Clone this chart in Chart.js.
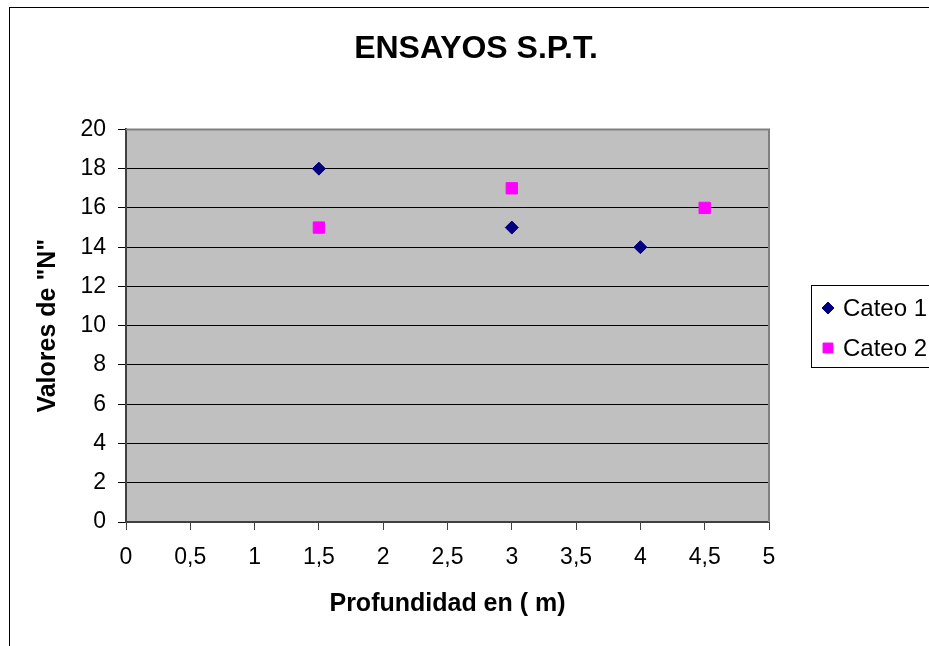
<!DOCTYPE html>
<html>
<head>
<meta charset="utf-8">
<script src="https://cdn.jsdelivr.net/npm/chart.js@4"></script>
<style>
  html, body { margin: 0; padding: 0; background: #fff; overflow: hidden; }
  #wrap { width: 929px; height: 646px; position: relative; }
</style>
</head>
<body>
<div id="wrap"><canvas id="chart"></canvas></div>
<script>
const cateo1Depth = [1.5, 3, 4];
const cateo1N = [18, 15, 14];
const cateo2Depth = [1.5, 3, 4.5];
const cateo2N = [15, 17, 16];
const xTickLabels = ['0', '0,5', '1', '1,5', '2', '2,5', '3', '3,5', '4', '4,5', '5'];
const yTickLabels = ['0', '2', '4', '6', '8', '10', '12', '14', '16', '18', '20'];

const FONT = "Arial, 'Liberation Sans', sans-serif";

// grey plot area + frame around the whole chart
const plotArea = {
    id: 'plotArea',
    beforeDraw(chart) {
        const { ctx, chartArea: a } = chart;
        ctx.save();
        ctx.fillStyle = '#ffffff';
        ctx.fillRect(0, 0, chart.width, chart.height);
        ctx.strokeStyle = '#000000';
        ctx.lineWidth = 1;
        ctx.strokeRect(9.5, 7.5, chart.width + 50, chart.height + 50);
        ctx.fillStyle = '#C0C0C0';
        ctx.fillRect(a.left, a.top, a.right - a.left, a.bottom - a.top);
        ctx.restore();
    },
    afterDraw(chart) {
        const { ctx, chartArea: a } = chart;
        ctx.save();
        ctx.strokeStyle = '#808080';
        ctx.lineWidth = 2;
        ctx.beginPath();
        ctx.moveTo(a.left, a.top);
        ctx.lineTo(a.right, a.top);
        ctx.lineTo(a.right, a.bottom);
        ctx.stroke();
        ctx.restore();
    }
};

// excel-like legend box on the right
const boxLegend = {
    id: 'boxLegend',
    afterDraw(chart) {
        const { ctx } = chart;
        const x0 = 811, y0 = 285, h = 82;
        ctx.save();
        ctx.strokeStyle = '#000000';
        ctx.lineWidth = 1;
        ctx.strokeRect(x0 + 0.5, y0 + 0.5, 200, h);
        ctx.font = '24px ' + FONT;
        ctx.textBaseline = 'middle';
        chart.data.datasets.forEach((ds, i) => {
            const cy = y0 + 23 + i * 40;
            ctx.fillStyle = ds.backgroundColor;
            ctx.strokeStyle = ds.borderColor;
            Chart.helpers.drawPoint(ctx, {
                pointStyle: ds.pointStyle,
                radius: ds.pointStyle === 'rectRot' ? 6 : 7,
                borderWidth: 1,
                rotation: 0
            }, 828, cy);
            ctx.fillStyle = '#000000';
            ctx.fillText(ds.label, 843, cy + 1);
        });
        ctx.restore();
    }
};

new Chart(document.getElementById('chart'), {
    type: 'scatter',
    data: {
        datasets: [{
            label: 'Cateo 1',
            data: cateo1Depth.map((x, i) => ({ x: x, y: cateo1N[i] })),
            pointStyle: 'rectRot',
            pointRadius: 6.5,
            backgroundColor: '#000080',
            borderColor: '#000080',
            borderWidth: 1
        }, {
            label: 'Cateo 2',
            data: cateo2Depth.map((x, i) => ({ x: x, y: cateo2N[i] })),
            pointStyle: 'rect',
            pointRadius: 8,
            backgroundColor: '#FF00FF',
            borderColor: '#FF00FF',
            borderWidth: 1
        }]
    },
    options: {
        responsive: true,
        maintainAspectRatio: false,
        animation: false,
        layout: {
            padding: { left: 23, top: 7, right: 0, bottom: 0 }
        },
        plugins: {
            legend: { display: false },
            tooltip: { enabled: false },
            title: {
                display: true,
                text: 'ENSAYOS S.P.T.',
                color: '#000000',
                font: { family: FONT, size: 32, weight: 'bold' },
                padding: { top: 23, bottom: 61 }
            }
        },
        scales: {
            x: {
                type: 'linear',
                min: 0,
                max: 5,
                afterFit: s => { s.height = 124; },
                ticks: {
                    stepSize: 0.5,
                    color: '#000000',
                    padding: 14,
                    maxRotation: 0,
                    font: { family: FONT, size: 23 },
                    callback: (v, i) => xTickLabels[i]
                },
                grid: {
                    drawOnChartArea: false,
                    drawTicks: true,
                    tickLength: 8,
                    color: '#404040'
                },
                border: { color: '#404040', width: 2 },
                title: {
                    display: true,
                    text: 'Profundidad en ( m)',
                    color: '#000000',
                    font: { family: FONT, size: 25, weight: 'bold' },
                    padding: { top: 0, bottom: 27 }
                }
            },
            y: {
                min: 0,
                max: 20,
                afterFit: s => { s.width = 103; },
                ticks: {
                    stepSize: 2,
                    color: '#000000',
                    padding: 12,
                    font: { family: FONT, size: 23 },
                    callback: (v, i) => yTickLabels[i]
                },
                grid: {
                    color: '#000000',
                    lineWidth: 1,
                    tickLength: 8
                },
                border: { color: '#404040', width: 2 },
                title: {
                    display: true,
                    text: 'Valores de "N"',
                    color: '#000000',
                    font: { family: FONT, size: 25, weight: 'bold' },
                    padding: { top: 10, bottom: 0 }
                }
            },
            // empty axis on the right, only reserves room for the legend
            yRight: {
                position: 'right',
                min: 0,
                max: 20,
                afterFit: s => { s.width = 160; },
                ticks: { display: false },
                grid: { display: false },
                border: { display: false }
            }
        }
    },
    plugins: [plotArea, boxLegend]
});
</script>
</body>
</html>
